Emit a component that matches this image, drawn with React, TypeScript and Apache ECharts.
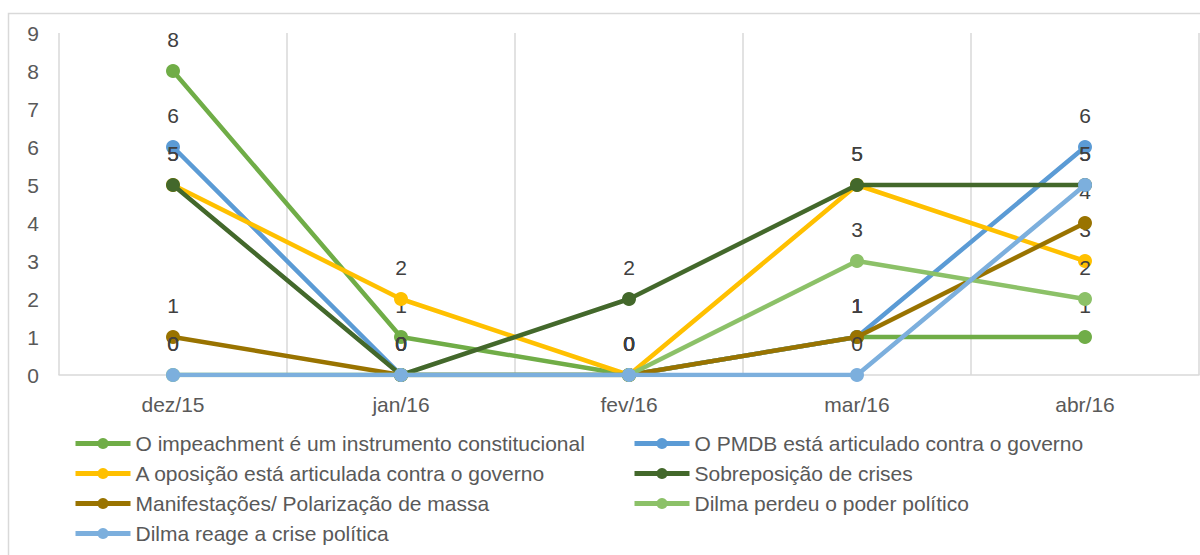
import React, { useEffect, useRef } from "react";
import * as echarts from "echarts";

const categories = ["dez/15", "jan/16", "fev/16", "mar/16", "abr/16"];
const seriesNames = [
  "O impeachment é um instrumento constitucional",
  "O PMDB está articulado contra o governo",
  "A oposição está articulada contra o governo",
  "Sobreposição de crises",
  "Manifestações/ Polarização de massa",
  "Dilma perdeu o poder político",
  "Dilma reage a crise política",
];
const impeachment = [8, 1, 0, 1, 1];
const pmdb = [6, 0, 0, 1, 6];
const oposicao = [5, 2, 0, 5, 3];
const sobreposicao = [5, 0, 2, 5, 5];
const manifestacoes = [1, 0, 0, 1, 4];
const dilmaPerdeu = [0, 0, 0, 3, 2];
const dilmaReage = [0, 0, 0, 0, 5];
const seriesValues = [impeachment, pmdb, oposicao, sobreposicao, manifestacoes, dilmaPerdeu, dilmaReage];
const colors = ["#70AD47", "#5B9BD5", "#FFC000", "#43682B", "#997300", "#8CC168", "#7CAFDD"];
const yTicks = { min: 0, max: 9, interval: 1 };

const FONT = "'Liberation Sans', Arial, sans-serif";

export default function App() {
  const ref = useRef<HTMLDivElement>(null);
  useEffect(() => {
    if (!ref.current) return;
    const chart = echarts.init(ref.current, undefined, { renderer: "svg" });
    const series = seriesNames.map((name, i) => ({
      name,
      type: "line",
      data: seriesValues[i],
      symbol: "circle",
      symbolSize: 14,
      showAllSymbol: true,
      lineStyle: { width: 4.5, color: colors[i] },
      itemStyle: { color: colors[i] },
      label: {
        show: true,
        position: "top",
        distance: 14,
        fontSize: 21,
        fontFamily: FONT,
        color: "#404040",
      },
      z: 2 + i,
    }));
    const legendCommon = {
      orient: "vertical",
      padding: 0,
      itemWidth: 55,
      itemHeight: 14,
      itemGap: 9,
      lineStyle: { width: 5 },
      textStyle: { fontSize: 21, fontFamily: FONT, color: "#595959", lineHeight: 21 },
    };
    chart.setOption({
      animation: false,
      color: colors,
      textStyle: { fontFamily: FONT },
      grid: { left: 59, right: 1, top: 33, bottom: 180, containLabel: false },
      xAxis: {
        type: "category",
        data: categories,
        boundaryGap: true,
        axisLine: { show: true, lineStyle: { color: "#D9D9D9", width: 1.5 } },
        axisTick: { show: false },
        splitLine: { show: true, lineStyle: { color: "#D9D9D9", width: 1.5 } },
        axisLabel: { fontSize: 21, fontFamily: FONT, color: "#595959", margin: 19 },
      },
      yAxis: {
        type: "value",
        min: yTicks.min,
        max: yTicks.max,
        interval: yTicks.interval,
        axisLine: { show: false },
        axisTick: { show: false },
        splitLine: { show: false },
        axisLabel: { fontSize: 21, fontFamily: FONT, color: "#595959", margin: 20 },
      },
      legend: [
        { ...legendCommon, left: 73, top: 433, data: [seriesNames[0], seriesNames[2], seriesNames[4], seriesNames[6]] },
        { ...legendCommon, left: 632, top: 433, data: [seriesNames[1], seriesNames[3], seriesNames[5]] },
      ],
      graphic: [
        {
          type: "rect",
          shape: { x: 8.5, y: 13.5, width: 1300, height: 700 },
          style: { fill: "none", stroke: "#D9D9D9", lineWidth: 1.5 },
          silent: true,
          z: -1,
        },
      ],
      series,
    });
    return () => chart.dispose();
  }, []);
  return (
    <div
      ref={ref}
      style={{ position: "fixed", left: 0, top: 0, width: 1200, height: 555, background: "#fff" }}
    />
  );
}
